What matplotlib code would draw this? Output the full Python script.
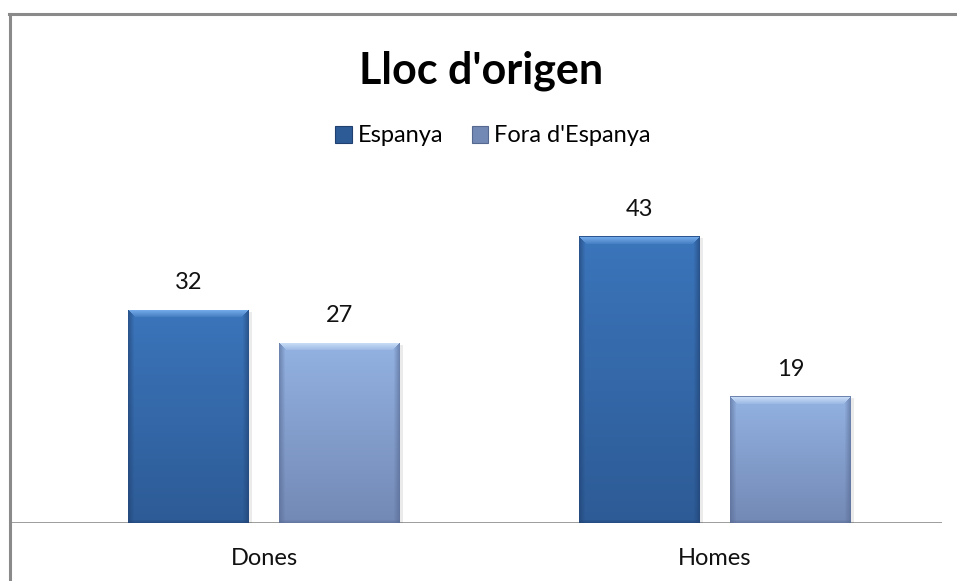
import numpy as np
import matplotlib
matplotlib.use("Agg")
import matplotlib.pyplot as plt
from matplotlib.patches import Patch, Rectangle
from matplotlib.lines import Line2D

categories = ["Dones", "Homes"]
series_names = ["Espanya", "Fora d'Espanya"]
espanya = [32, 43]
fora = [27, 19]
title = "Lloc d'origen"

W, H = 957, 581
fig = plt.figure(figsize=(W / 100, H / 100), dpi=100)
plt.rcParams['font.family'] = ['Lato', 'DejaVu Sans']

ax_left, ax_right = 12, 942
ax_bottom_px, ax_top_px = 523, 180
ax = fig.add_axes([ax_left / W, (H - ax_bottom_px) / H, (ax_right - ax_left) / W,
                   (ax_bottom_px - ax_top_px) / H])
px_per_unit = 6.67
ymax = (ax_bottom_px - ax_top_px) / px_per_unit
ax.set_ylim(0, ymax)
ax.set_xlim(-0.5588, 1.503)
for s in ax.spines.values():
    s.set_visible(False)
ax.set_yticks([])
x = np.arange(len(categories))
ax.set_xticks(x)
ax.set_xticklabels(categories, fontsize=17, color='#111111')
ax.tick_params(axis='x', length=0, pad=18)
ax.axhline(0, color='#8c8c8c', lw=1.2, zorder=1)

width = 0.268
offset = 0.1674

styles = [
    dict(top=np.array([0x3B, 0x75, 0xBB]) / 255, bot=np.array([0x2D, 0x5B, 0x96]) / 255,
         edge=np.array([0x20, 0x40, 0x70]) / 255, hi=np.array([0x7C, 0xB2, 0xF0]) / 255),
    dict(top=np.array([0x93, 0xB2, 0xE2]) / 255, bot=np.array([0x73, 0x89, 0xB5]) / 255,
         edge=np.array([0x55, 0x68, 0x90]) / 255, hi=np.array([0xCF, 0xE2, 0xF9]) / 255),
]


def bar_image(h_px, w_px, st):
    h_px = max(int(round(h_px)), 4)
    w_px = max(int(round(w_px)), 4)
    t = np.linspace(0, 1, h_px)[:, None, None]
    img = st['top'] * (1 - t) + st['bot'] * t
    img = np.broadcast_to(img, (h_px, w_px, 3)).copy()
    bev = 6
    rr, cc = np.mgrid[0:h_px, 0:w_px]
    side = np.minimum(cc, w_px - 1 - cc)
    dtop = rr
    dbot = h_px - 1 - rr
    for k in range(bev):
        f = 0.6 * (1 - k / bev)
        mask = (side == k) & (dtop > k)
        img[mask] = img[mask] * (1 - f) + st['edge'] * f
    for k in range(3):
        f = 0.5 * (1 - k / 3)
        mask = (dbot == k)
        img[mask] = img[mask] * (1 - f) + st['edge'] * f
    for k in range(bev + 2):
        f = 0.85 * (1 - k / (bev + 2)) + 0.1
        mask = (dtop == k) & (side >= k)
        img[mask] = img[mask] * (1 - f) + st['hi'] * f
    img[0, :, :] = st['edge'] * 0.6 + st['top'] * 0.4
    return np.clip(img, 0, 1)


for i, vals in enumerate([espanya, fora]):
    xs = x + (-offset if i == 0 else offset)
    bars = ax.bar(xs, vals, width=width, color=styles[i]['top'], zorder=2,
                  linewidth=0)
    for b, v in zip(bars, vals):
        sh = Rectangle((b.get_x() + 0.006, 0), b.get_width(), v - 0.3,
                       facecolor='#000000', alpha=0.08, zorder=1.5, lw=0)
        ax.add_patch(sh)
        h_px = v * px_per_unit
        w_px = width * 451
        img = bar_image(h_px, w_px, styles[i])
        im = ax.imshow(img, extent=(b.get_x(), b.get_x() + b.get_width(), 0, v),
                       aspect='auto', zorder=3, interpolation='nearest')
        im.set_clip_path(b)
        ax.annotate(f"{v}", (b.get_x() + b.get_width() / 2, v), xytext=(0, 19.5),
                    textcoords='offset points', ha='center', va='center',
                    fontsize=17, color='#111111')

ax.set_xlim(-0.5588, 1.503)
ax.set_ylim(0, ymax)

fig.text(481 / W, 1 - 71 / H, title, ha='center', va='center', fontsize=31,
         fontweight='bold', color='#000000')

handles = [Patch(facecolor=styles[0]['bot'], edgecolor=styles[0]['edge'], lw=0.8),
           Patch(facecolor=styles[1]['bot'], edgecolor=styles[1]['edge'], lw=0.8)]
fig.legend(handles, series_names, loc='center', bbox_to_anchor=(493 / W, 1 - 136 / H),
           ncol=2, frameon=False, fontsize=17, handlelength=0.7, handleheight=0.7,
           handletextpad=0.25, columnspacing=1.2)

fig.add_artist(Line2D([10 / W, 10 / W], [0, 1 - 14 / H], transform=fig.transFigure,
                      color='#8a8a8a', lw=2.2))
fig.add_artist(Line2D([9 / W, 1], [1 - 14 / H, 1 - 14 / H], transform=fig.transFigure,
                      color='#8a8a8a', lw=2.2))

fig.savefig("out.png", dpi=100)
